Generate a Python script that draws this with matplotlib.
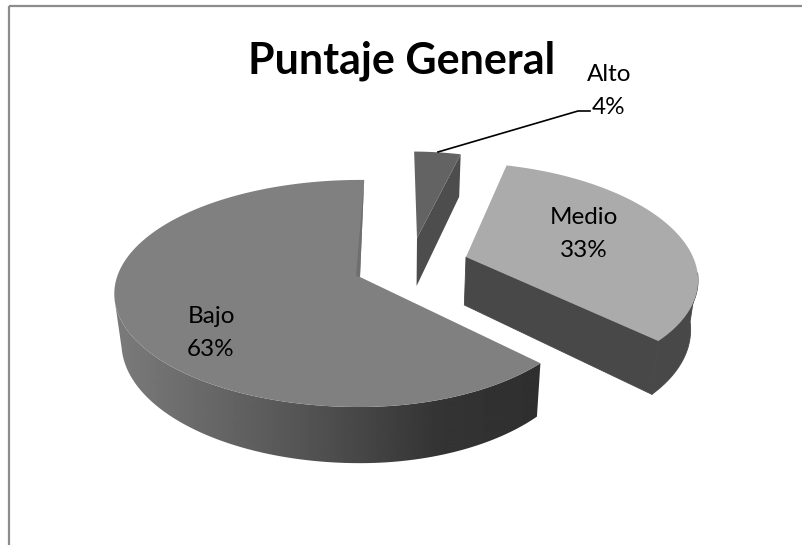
import numpy as np
import matplotlib
matplotlib.use("Agg")
import matplotlib.pyplot as plt
from matplotlib.patches import Polygon

title = "Puntaje General"
categories = ["Bajo", "Medio", "Alto"]
shares = [63, 33, 4]

W, H = 802, 545
fig = plt.figure(figsize=(W / 100, H / 100), dpi=100)
ax = fig.add_axes([0, 0, 1, 1])
ax.set_xlim(0, W)
ax.set_ylim(H, 0)
ax.axis("off")
plt.rcParams["font.family"] = ["Lato", "DejaVu Sans"]

# projection of the pie plane onto the page
K, E, SHEAR, DEPTH, VX, BASE = 0.145, 71.0, 53.0, 48.0, 400.0, 0.975
AX_RIGHT, AX_LEFT = 227.0, 243.0
START = 89.0  # degrees, first slice runs counter-clockwise
tips = {"Bajo": (360, 277), "Medio": (466, 257), "Alto": (417, 238)}
radii = {"Bajo": 1.0, "Medio": 1.0, "Alto": 0.93}
top_col = {"Bajo": "#808080", "Medio": "#ababab", "Alto": "#636363"}
side_col = {"Medio": "#484848", "Alto": "#4d4d4d"}


def project(tip, u, v, base=False):
    u, v = np.asarray(u, float), np.asarray(v, float)
    d = 1 + K * v
    a = np.where(u < 0, AX_LEFT, AX_RIGHT)
    x = (tip[0] + a * u + SHEAR * v) / d
    y = (tip[1] - E * v) / d
    if base:
        x = VX + (x - VX) * BASE
        y = y + DEPTH / d
    return x, y


def arc(name, t0, t1, base=False):
    t = np.radians(np.linspace(t0, t1, 200))
    r = radii[name]
    return project(tips[name], r * np.cos(t), r * np.sin(t), base)


spans = {}
a0 = START
for name, s in zip(categories, shares):
    spans[name] = (a0, a0 + s * 3.6)
    a0 += s * 3.6


def sector(name):
    t0, t1 = spans[name]
    x, y = arc(name, t0, t1)
    tx, ty = tips[name]
    return np.column_stack([np.r_[tx, x], np.r_[ty, y]])


def radial_wall(name, angle):
    tx, ty = tips[name]
    x1, y1 = arc(name, angle, angle)
    bx0, by0 = project(tips[name], 0.0, 0.0, True)
    bx1, by1 = arc(name, angle, angle, True)
    return [(tx, ty), (x1[0], y1[0]), (bx1[0], by1[0]), (float(bx0), float(by0))]


def outer_wall(name, t0, t1):
    x, y = arc(name, t0, t1)
    bx, by = arc(name, t0, t1, True)
    return np.column_stack([np.r_[x, bx[::-1]], np.r_[y, by[::-1]]])


# Alto (rear slice)
t0, t1 = spans["Alto"]
ax.add_patch(Polygon(radial_wall("Alto", t0 % 360), fc=side_col["Alto"], ec="none", zorder=2))
ax.add_patch(Polygon(sector("Alto"), fc=top_col["Alto"], ec="none", zorder=3))

# Medio
t0, t1 = spans["Medio"]
ax.add_patch(Polygon(radial_wall("Medio", t0 % 360), fc=side_col["Medio"], ec=side_col["Medio"], lw=0.6, zorder=4))
ax.add_patch(Polygon(outer_wall("Medio", t0, t0 + 36), fc=side_col["Medio"], ec=side_col["Medio"], lw=0.6, zorder=4))
ax.add_patch(Polygon(sector("Medio"), fc=top_col["Medio"], ec="none", zorder=5))

# Bajo, wall shaded left to right
t0, t1 = spans["Bajo"]
wall = Polygon(outer_wall("Bajo", 191, t1), fc="none", ec="none", zorder=6)
ax.add_patch(wall)
xs = np.linspace(100, 560, 460)
shade = np.interp(xs, [120, 300, 440, 560], [122, 85, 52, 46]) / 255
img = ax.imshow(shade[None, :], cmap="gray", vmin=0, vmax=1, aspect="auto",
                extent=(100, 560, 480, 280), zorder=6, interpolation="bilinear")
img.set_clip_path(wall)
ax.set_xlim(0, W)
ax.set_ylim(H, 0)
ax.add_patch(Polygon(sector("Bajo"), fc=top_col["Bajo"], ec="none", zorder=7))
sx, sy = arc("Bajo", t0, t0)
ax.add_patch(Polygon([(sx[0], sy[0]), tips["Bajo"], (tips["Bajo"][0] - 4, tips["Bajo"][1] - 1)],
                     fc="#6f6f6f", ec="none", zorder=8))

# frame
ax.plot([8.5, 8.5], [H, 5.5], color="#8c8c8c", lw=1.6, zorder=1, solid_capstyle="butt")
ax.plot([8.5, W], [5.5, 5.5], color="#8c8c8c", lw=1.6, zorder=1, solid_capstyle="butt")

# texts
ax.text(402, 61, title, ha="center", va="center", fontsize=31, fontweight="bold", color="k", zorder=10)
label_pos = {"Bajo": (211, 333), "Medio": (584, 234), "Alto": (609, 91)}
for name, s in zip(categories, shares):
    x, y = label_pos[name]
    ax.text(x, y, f"{name}\n{s}%", ha="center", va="center", fontsize=17.5, color="k",
            linespacing=1.65, zorder=10)
ax.plot([438, 578, 590], [152, 111, 111], color="k", lw=1.2, zorder=9)

fig.savefig("out.png", dpi=100, facecolor="white")
